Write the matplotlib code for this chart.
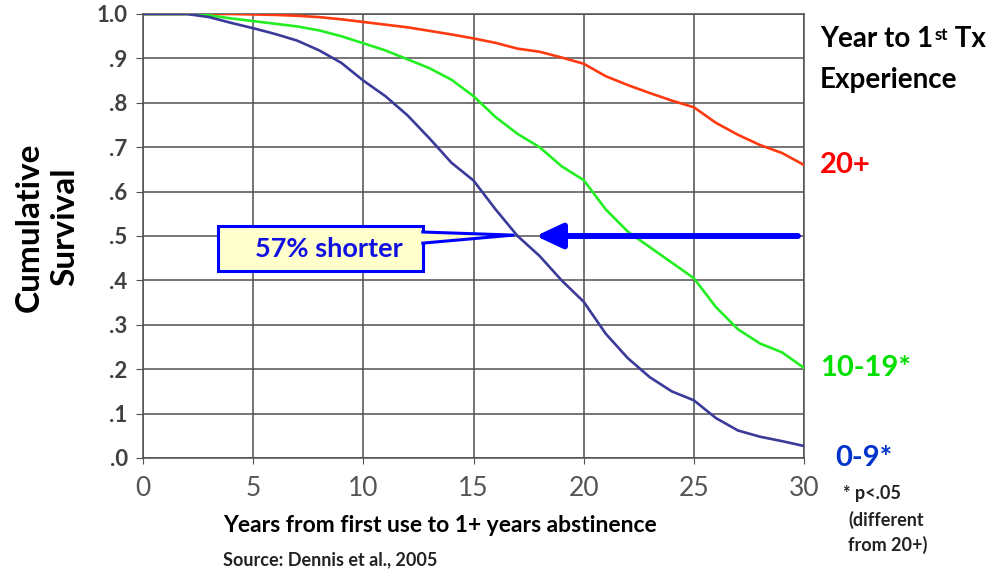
import numpy as np
import matplotlib
matplotlib.use('Agg')
import matplotlib.pyplot as plt
from matplotlib.patches import Rectangle, Polygon, FancyArrowPatch

plt.rcParams['font.family'] = ['Lato', 'DejaVu Sans']

years = [0, 1, 2, 3, 4, 5, 6, 7, 8, 9, 10, 11, 12, 13, 14, 15,
         16, 17, 18, 19, 20, 21, 22, 23, 24, 25, 26, 27, 28, 29, 30]

surv_20plus = [1.0, 1.0, 1.0, 1.0, 1.0, 0.999, 0.998, 0.996, 0.993, 0.988, 0.982,
               0.976, 0.970, 0.962, 0.954, 0.945, 0.935, 0.922, 0.915, 0.902, 0.888,
               0.860, 0.840, 0.822, 0.805, 0.790, 0.755, 0.728, 0.705, 0.687, 0.660]
surv_10_19 = [1.0, 1.0, 1.0, 0.997, 0.990, 0.984, 0.978, 0.972, 0.963, 0.950, 0.934,
              0.918, 0.898, 0.878, 0.852, 0.815, 0.768, 0.730, 0.700, 0.657, 0.626,
              0.560, 0.510, 0.475, 0.440, 0.405, 0.340, 0.290, 0.258, 0.238, 0.203]
surv_0_9 = [1.0, 1.0, 1.0, 0.993, 0.980, 0.968, 0.955, 0.940, 0.918, 0.890, 0.850,
            0.815, 0.772, 0.720, 0.665, 0.625, 0.560, 0.500, 0.455, 0.400, 0.352,
            0.280, 0.225, 0.182, 0.150, 0.130, 0.090, 0.062, 0.048, 0.038, 0.027]

ytick_vals = [0.0, 0.1, 0.2, 0.3, 0.4, 0.5, 0.6, 0.7, 0.8, 0.9, 1.0]
ytick_labels = ['.0', '.1', '.2', '.3', '.4', '.5', '.6', '.7', '.8', '.9', '1.0']
xtick_vals = [0, 5, 10, 15, 20, 25, 30]

W, H = 1005, 570


def fx(px):
	return px / W


def fy(py):
	return 1 - py / H


fig = plt.figure(figsize=(W / 100, H / 100), dpi=100)
ax = fig.add_axes([fx(143), fy(458), fx(804) - fx(143), (458 - 14) / H])

grid_col = '#505050'
ax.set_xlim(0, 30)
ax.set_ylim(0, 1)
ax.set_xticks(xtick_vals)
ax.set_yticks(ytick_vals)
ax.set_yticklabels(ytick_labels)
ax.grid(True, color=grid_col, linewidth=1.1)
for s in ax.spines.values():
	s.set_color(grid_col)
	s.set_linewidth(1.1)
ax.tick_params(axis='x', direction='out', length=4, color=grid_col, pad=9,
               labelsize=19, labelcolor='#555555')
ax.tick_params(axis='y', direction='out', length=5, color=grid_col, pad=6,
               labelsize=16, labelcolor='#404040')
for lab in ax.get_yticklabels():
	lab.set_fontweight('bold')

ax.plot(years, surv_20plus, color='#FF3A10', linewidth=1.9, zorder=3)
ax.plot(years, surv_10_19, color='#22EE22', linewidth=1.9, zorder=3)
ax.plot(years, surv_0_9, color='#3A3A98', linewidth=1.9, zorder=3)

# arrow at median survival
arrow = FancyArrowPatch((29.85, 0.5), (17.7, 0.5), arrowstyle='-|>,head_length=16,head_width=7.5',
                        mutation_scale=1, color='#0000FF', linewidth=4.3, zorder=4)
ax.add_patch(arrow)

# callout box
box_col = '#0000FF'
ax.add_patch(Rectangle((3.4, 0.421), 12.7 - 3.4, 0.523 - 0.421, facecolor='#FFFFCC',
                       edgecolor=box_col, linewidth=2.2, zorder=5))
ax.add_patch(Polygon([(12.6, 0.509), (16.8, 0.502), (12.6, 0.484)], closed=True,
                     facecolor='#FFFFCC', edgecolor='none', zorder=6))
ax.plot([12.7, 16.8, 12.7], [0.509, 0.502, 0.484], color=box_col, linewidth=2.2, zorder=6)
ax.text(8.45, 0.471, '57% shorter', color='#1010E0', fontsize=19.5, fontweight='bold',
        ha='center', va='center', zorder=7)

# axis labels
fig.text(fx(47), fy(227), 'Cumulative\nSurvival', rotation=90, fontsize=24,
         fontweight='bold', ha='center', va='center', linespacing=1.3)
fig.text(fx(440), fy(525), 'Years from first use to 1+ years abstinence', fontsize=16.5,
         fontweight='bold', ha='center', va='center')
fig.text(fx(223), fy(560), 'Source: Dennis et al., 2005', fontsize=13,
         fontweight='bold', ha='left', va='center', color='#222222')

# labels on the right
t1 = fig.text(fx(820), fy(47), 'Year to 1', fontsize=20, fontweight='bold', ha='left', va='baseline')
t2 = ax.annotate('st', xy=(1, 1), xycoords=t1, xytext=(1, -1), textcoords='offset points',
                 fontsize=12, fontweight='bold', ha='left', va='top')
ax.annotate(' Tx', xy=(1, fy(47)), xycoords=(t2, fig.transFigure), fontsize=20,
            fontweight='bold', ha='left', va='baseline')
fig.text(fx(820), fy(88), 'Experience', fontsize=20, fontweight='bold', ha='left', va='baseline')

fig.text(fx(820), fy(165), '20+', fontsize=21, fontweight='bold', color='#FF0000', va='center')
fig.text(fx(820), fy(368), '10-19*', fontsize=21, fontweight='bold', color='#00E000', va='center')
fig.text(fx(835), fy(458), '0-9*', fontsize=21, fontweight='bold', color='#0033CC', va='center')

fig.text(fx(843), fy(493), '* p<.05', fontsize=13, fontweight='bold', color='#222222', va='center')
fig.text(fx(848), fy(520), '(different', fontsize=13, fontweight='bold', color='#222222', va='center')
fig.text(fx(848), fy(545), 'from 20+)', fontsize=13, fontweight='bold', color='#222222', va='center')

fig.savefig('out.png', dpi=100, facecolor='white')
